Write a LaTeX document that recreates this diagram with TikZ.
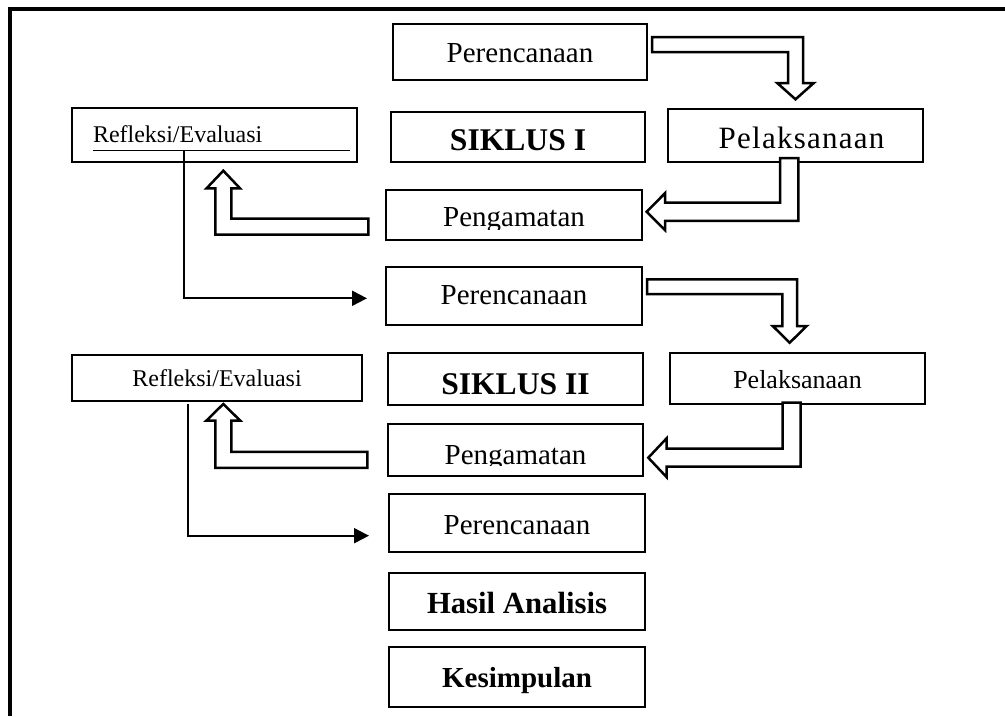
\documentclass[tikz,border=0pt]{standalone}
\usepackage{fontspec}
\setmainfont{Liberation Serif}
\usetikzlibrary{arrows.meta,calc}
\tikzset{
  box/.style={draw, line width=2.6pt, inner sep=0pt, outer sep=0pt, fill=white, text height=30pt},
  conn/.style={line width=2pt, -{Triangle[length=15pt,width=15pt]}},
  barrow/.style={draw, fill=white, line width=2.5pt, line join=miter},
  frameline/.style={line width=3.5pt},
}
\newcommand\fs[1]{\fontsize{#1}{#1}\selectfont}
% block arrow: right then down
\newcommand\barRD[5]{%
\draw[barrow] let \p1=(#1), \p2=(#2) in
 (\x1,{\y1+#3}) -- ({\x2+#3},{\y1+#3}) -- ({\x2+#3},{\y2+#5}) -- ({\x2+#4},{\y2+#5}) -- (\x2,\y2) -- ({\x2-#4},{\y2+#5}) -- ({\x2-#3},{\y2+#5}) -- ({\x2-#3},{\y1-#3}) -- (\x1,{\y1-#3}) -- cycle;}
% block arrow: down then left
\newcommand\barDL[5]{%
\draw[barrow] let \p1=(#1), \p2=(#2) in
 ({\x1-#3},\y1) -- ({\x1+#3},\y1) -- ({\x1+#3},{\y2-#3}) -- ({\x2+#5},{\y2-#3}) -- ({\x2+#5},{\y2-#4}) -- (\x2,\y2) -- ({\x2+#5},{\y2+#4}) -- ({\x2+#5},{\y2+#3}) -- ({\x1-#3},{\y2+#3}) -- cycle;}
% block arrow: left then up
\newcommand\barLU[5]{%
\draw[barrow] let \p1=(#1), \p2=(#2) in
 (\x1,{\y1+#3}) -- ({\x2+#3},{\y1+#3}) -- ({\x2+#3},{\y2-#5}) -- ({\x2+#4},{\y2-#5}) -- (\x2,\y2) -- ({\x2-#4},{\y2-#5}) -- ({\x2-#3},{\y2-#5}) -- ({\x2-#3},{\y1-#3}) -- (\x1,{\y1-#3}) -- cycle;}
\begin{document}
\begin{tikzpicture}[x=1pt,y=-1pt]
\useasboundingbox (0,0) rectangle (1005,716);
\draw[frameline] (1005,9) -- (10,9) -- (10,716);

% ---- cycle I
\node[box, minimum width=254pt, minimum height=56pt, text depth=9.4pt, font=\fs{29}] (p1) at (520,52) {Perencanaan};
\node[box, minimum width=254pt, minimum height=50pt, text depth=2.6pt, font=\fs{31.6}\bfseries] (s1) at (518,137) {SIKLUS I};
\node[box, minimum width=255pt, minimum height=53pt, text depth=4.4pt, font=\fs{31}\addfontfeature{LetterSpace=4}] (pel1) at (795.5,135.5) {\kern12pt Pelaksanaan};
\node[box, minimum width=256pt, minimum height=50pt, text depth=6.6pt, font=\fs{29}] (peng1) at (514,215) {Pengamatan};
\fill[white] ([xshift=30pt,yshift=1.8pt]peng1.south west) rectangle ([xshift=-30pt,yshift=10pt]peng1.south east);
\node[box, minimum width=285pt, minimum height=54pt, text depth=15.4pt, text width=243pt, align=left, font=\fs{24}] (r1) at (214.5,135) {Refleksi/Evaluasi};
\draw[line width=1pt] ([xshift=21pt,yshift=12pt]r1.south west) -- ([xshift=-7pt,yshift=12pt]r1.south east);

% ---- cycle II
\node[box, minimum width=256pt, minimum height=58pt, text depth=13.4pt, font=\fs{29}] (p2) at (514,296) {Perencanaan};
\node[box, minimum width=255pt, minimum height=52pt, text depth=0pt, font=\fs{31.6}\bfseries] (s2) at (515.5,379) {SIKLUS II};
\node[box, minimum width=255pt, minimum height=51pt, text depth=10.4pt, font=\fs{26}] (pel2) at (797.5,378.5) {Pelaksanaan};
\node[box, minimum width=290pt, minimum height=46pt, text depth=12.6pt, font=\fs{24}] (r2) at (217,378) {Refleksi/Evaluasi};
\node[box, minimum width=255pt, minimum height=52pt, text depth=2pt, font=\fs{29}] (peng2) at (515.5,450) {Pengamatan};
\fill[white] ([xshift=30pt,yshift=1.8pt]peng2.south west) rectangle ([xshift=-30pt,yshift=10pt]peng2.south east);

% ---- end
\node[box, minimum width=256pt, minimum height=58pt, text depth=8pt, font=\fs{29}] (p3) at (517,523) {Perencanaan};
\node[box, minimum width=256pt, minimum height=57pt, text depth=6.4pt, font=\fs{30.7}\bfseries] (ha) at (517,601.5) {Hasil Analisis};
\node[box, minimum width=256pt, minimum height=60pt, text depth=9.4pt, font=\fs{29}\bfseries] (ks) at (517,677) {Kesimpulan};

% ---- block arrows, cycle I
\coordinate (a1s) at ([xshift=5pt,yshift=7.5pt]p1.east);
\coordinate (a1t) at ([yshift=9.7pt]pel1.north);
\barRD{a1s}{a1t}{7.5pt}{18.3pt}{16.3pt}
\coordinate (a2s) at ([xshift=-6.3pt,yshift=4pt]pel1.south);
\coordinate (a2t) at ([xshift=4.7pt,yshift=3.3pt]peng1.east);
\barDL{a2s}{a2t}{9.2pt}{18.5pt}{18.3pt}
\coordinate (a3s) at ([xshift=-17.7pt,yshift=-11.7pt]peng1.west);
\coordinate (a3t) at ([xshift=8.8pt,yshift=-8.7pt]r1.south);
\barLU{a3s}{a3t}{8pt}{16.7pt}{17.6pt}

% ---- block arrows, cycle II
\coordinate (b1s) at ([xshift=5pt,yshift=9.3pt]p2.east);
\coordinate (b1t) at ([xshift=-7.8pt,yshift=10.3pt]pel2.north);
\barRD{b1s}{b1t}{7.4pt}{17pt}{16.7pt}
\coordinate (b2s) at ([xshift=-5.8pt,yshift=1.3pt]pel2.south);
\coordinate (b2t) at ([xshift=5.3pt,yshift=-7.7pt]peng2.east);
\barDL{b2s}{b2t}{9pt}{19.5pt}{18.4pt}
\coordinate (b3s) at ([xshift=-20.7pt,yshift=-9.8pt]peng2.west);
\coordinate (b3t) at ([xshift=6.3pt,yshift=-3pt]r2.south);
\barLU{b3s}{b3t}{8pt}{17pt}{16.7pt}

% ---- line connectors
\coordinate (r1tap) at ([xshift=111.5pt,yshift=12pt]r1.south west);
\draw[conn] (r1tap) |- ([xshift=-19pt,yshift=-2.3pt]p2.west);
\coordinate (r2tap) at ([xshift=-28.7pt,yshift=-3pt]r2.south);
\draw[conn] (r2tap) |- ([xshift=-20pt,yshift=-12.7pt]p3.west);
\end{tikzpicture}
\end{document}
